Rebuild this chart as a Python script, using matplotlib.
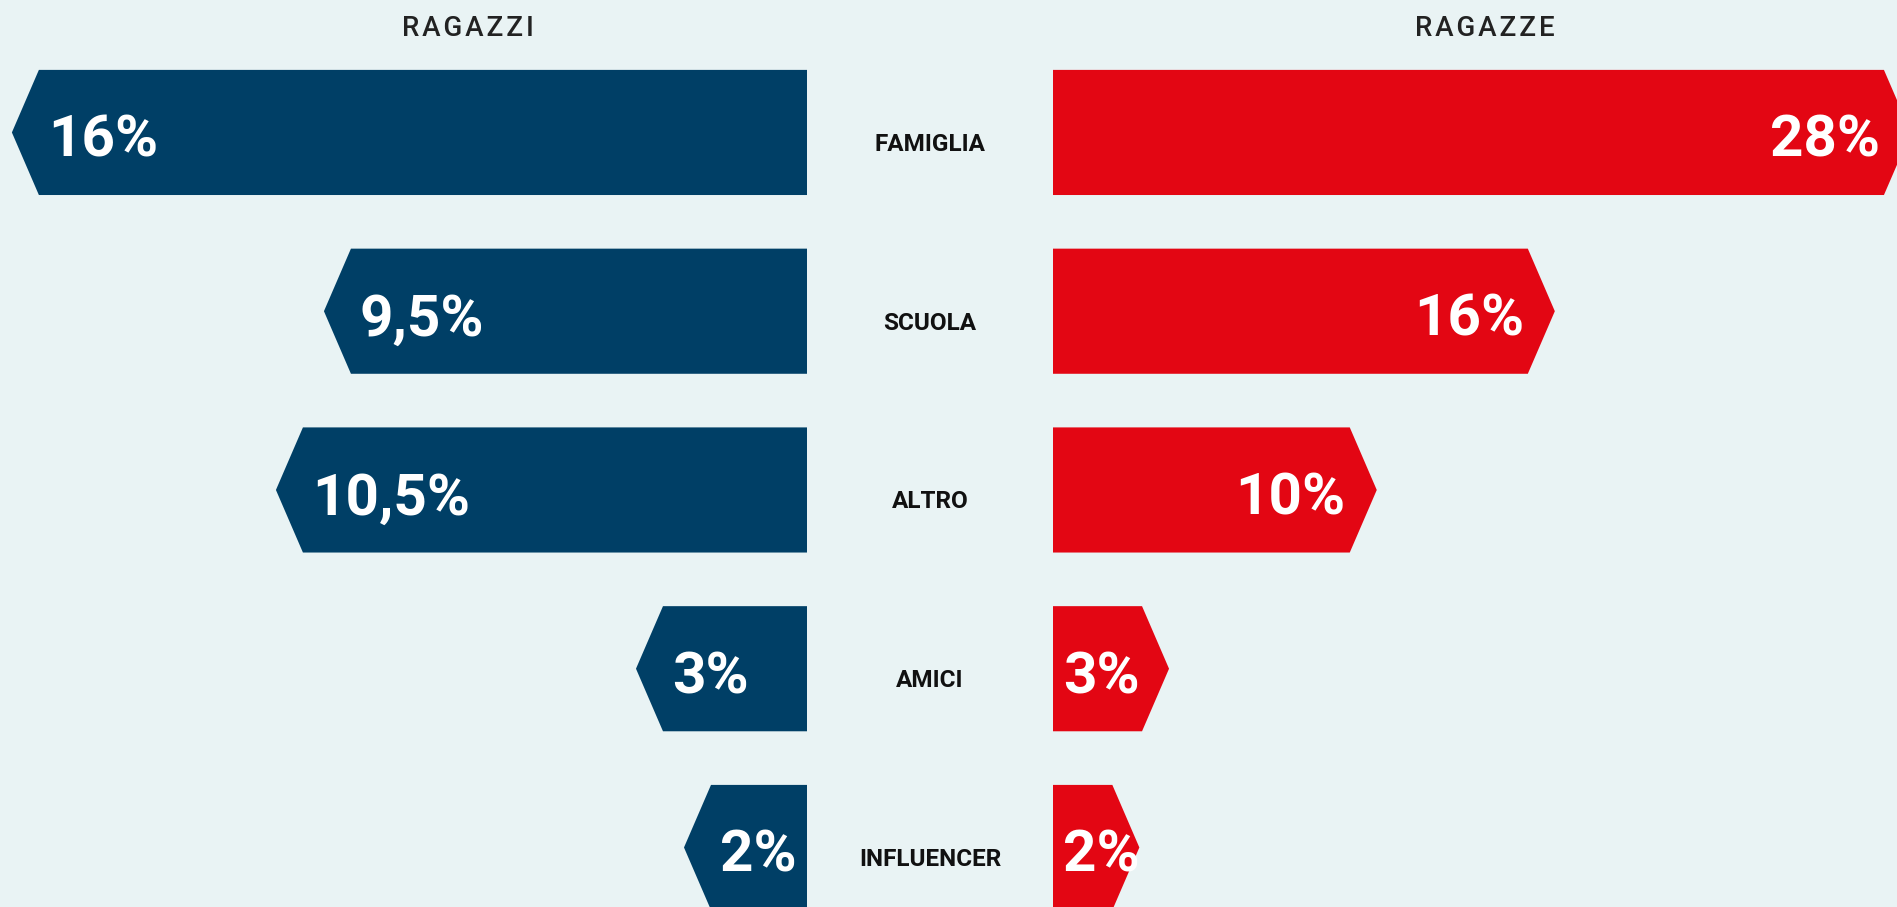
import numpy as np
import matplotlib.pyplot as plt
from matplotlib.patches import Polygon

plt.rcParams['font.family'] = ['Roboto', 'DejaVu Sans']

categories = ['FAMIGLIA', 'SCUOLA', 'ALTRO', 'AMICI', 'INFLUENCER']
ragazzi = [16, 9.5, 10.5, 3, 2]
ragazze = [28, 16, 10, 3, 2]
ragazzi_labels = ['16%', '9,5%', '10,5%', '3%', '2%']
ragazze_labels = ['28%', '16%', '10%', '3%', '2%']

bg = '#e9f3f4'
blue = '#003f66'
red = '#e30613'

W, H = 1897, 907
fig = plt.figure(figsize=(W / 100, H / 100), dpi=100, facecolor=bg)

left_px = 807
right_px0 = 1053
axL = fig.add_axes([0, 0, left_px / W, 1])
axR = fig.add_axes([right_px0 / W, 0, (W - right_px0) / W, 1])

xmaxL = 16.81
xmaxR = 28.44
ylim = (4.333, -0.741)
axL.set_xlim(xmaxL, 0)
axR.set_xlim(0, xmaxR)
for ax in (axL, axR):
    ax.set_ylim(*ylim)
    ax.set_facecolor(bg)
    ax.axis('off')

tip_px = 27
h = 0.7


def arrow_bar(ax, y, v, tip, color):
    pts = [(0, y - h / 2), (v, y - h / 2), (v + tip, y), (v, y + h / 2), (0, y + h / 2)]
    ax.add_patch(Polygon(pts, closed=True, facecolor=color, edgecolor='none'))


tipL = tip_px * xmaxL / left_px
tipR = tip_px * xmaxR / (W - right_px0)
padL = 9 * xmaxL / left_px
padR = 4 * xmaxR / (W - right_px0)

lab_kw = dict(color='white', fontsize=42, fontweight='bold', va='center')

for i, v in enumerate(ragazzi):
    arrow_bar(axL, i, v, tipL, blue)
    axL.text(v - padL, i + 0.05, ragazzi_labels[i], ha='left', **lab_kw)

for i, v in enumerate(ragazze):
    arrow_bar(axR, i, v, tipR, red)
    if v < 5:
        axR.text(0.35, i + 0.05, ragazze_labels[i], ha='left', **lab_kw)
    else:
        axR.text(v - padR, i + 0.05, ragazze_labels[i], ha='right', **lab_kw)

# category names in the gap
for i, c in enumerate(categories):
    yfig = 1 - (132.5 + 178.75 * i + 12) / H
    fig.text(930 / W, yfig, c, fontsize=17.5, fontweight='bold', color='#111111',
             ha='center', va='center')

hs = '\u200a'
fig.text(468 / W, 1 - 28 / H, hs.join('RAGAZZI'), fontsize=20, fontweight='medium',
         color='#222222', ha='center', va='center')
fig.text(1485 / W, 1 - 28 / H, hs.join('RAGAZZE'), fontsize=20, fontweight='medium',
         color='#222222', ha='center', va='center')

fig.savefig('out.png', dpi=100, facecolor=bg)
